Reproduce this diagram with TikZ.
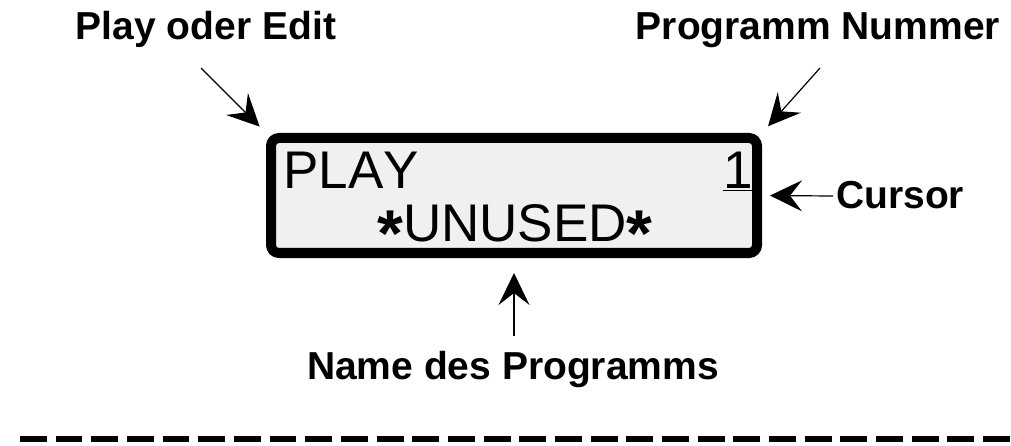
\documentclass[tikz,border=0pt]{standalone}
\usepackage{fontspec}
\setmainfont{Liberation Sans}
\usetikzlibrary{arrows.meta,calc}
\definecolor{lcdgrau}{RGB}{240,240,240}
\newcommand{\stern}{\raisebox{-0.3em}{\scalebox{1.25}{\bfseries *}}}

\begin{document}
\begin{tikzpicture}[x=1pt,y=-1pt,
    pfeil/.style={line width=1.2pt,-{Stealth[length=32pt,width=31pt,inset=12pt]}},
    beschr/.style={inner sep=0pt,font=\bfseries\fontsize{39}{39}\selectfont},
    lcdtext/.style={inner sep=0pt,font=\fontsize{53}{53}\selectfont\addfontfeatures{Kerning=Off}}]
    \useasboundingbox (0,0) rectangle (1011,446);

    \node[draw,fill=lcdgrau,line width=10pt,rounded corners=8pt,
      minimum width=486pt,minimum height=115pt] (lcd) at (514,195.5) {};
    \node[lcdtext,anchor=base west] (play) at (283,189) {PLAY};
    \node[lcdtext,anchor=base east] (nummer) at (753,189) {\underline{1}};
    \node[lcdtext,anchor=base] (unused) at (515,241) {\stern UNUSED\stern};

    \node[beschr,anchor=base] (playlbl) at (206,40) {Play oder Edit};
    \node[beschr,anchor=base] (numlbl) at (818,40) {Programm Nummer};
    \node[beschr,anchor=base west] (cursorlbl) at (836,209) {Cursor};
    \node[beschr,anchor=base] (namelbl) at (513,379) {Name des Programms};

    \coordinate (playfuss) at (201,68);
    \coordinate (numfuss) at (820,68);
    \coordinate (cursorfuss) at (833,196);
    \coordinate (namefuss) at (514,336);

    \draw[pfeil,shorten >=9pt] (playfuss) -- (lcd.north west);
    \draw[pfeil,shorten >=9pt] (numfuss) -- (lcd.north east);
    \draw[pfeil,shorten >=8pt] (cursorfuss) -- (lcd.east);
    \draw[pfeil,shorten >=15pt] (namefuss) -- (lcd.south);

    \draw[line width=6.5pt,dash pattern=on 26.8pt off 8.87pt] (20,439) -- (1010,439);
\end{tikzpicture}
\end{document}
